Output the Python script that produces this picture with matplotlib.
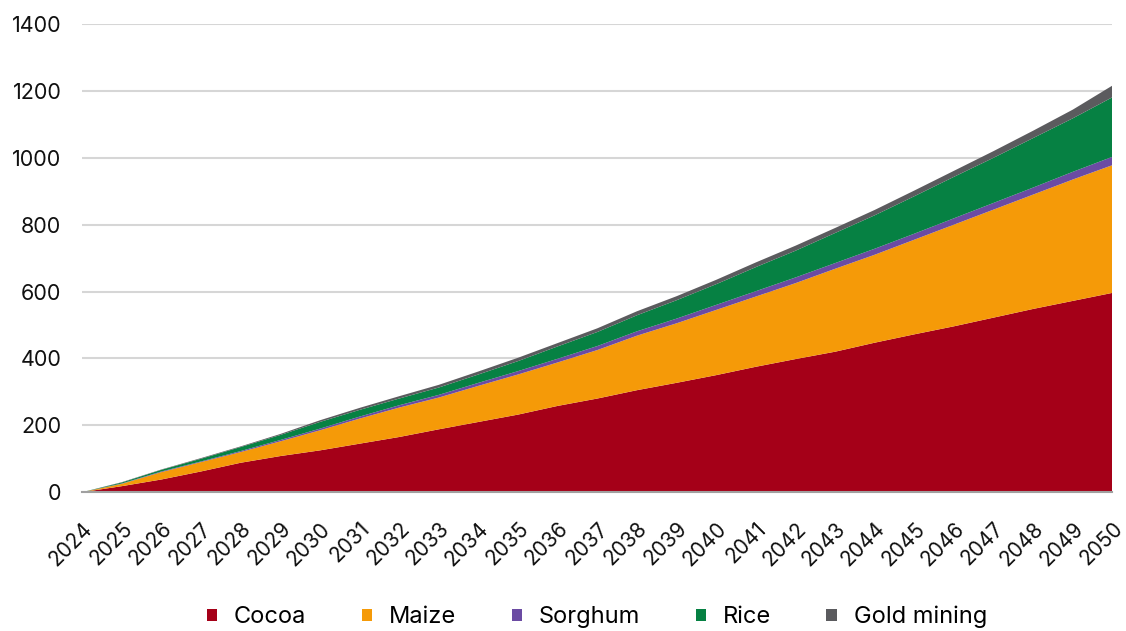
import matplotlib
matplotlib.use('Agg')
import matplotlib.pyplot as plt
from matplotlib.patches import Patch

plt.rcParams['font.family'] = ['Inter', 'DejaVu Sans']

years = list(range(2024, 2051))

# layer thickness for each series (stacked)
cocoa = [0, 18, 38, 62, 88, 108, 125, 145, 165, 188, 210, 232, 258, 280, 305,
         327, 350, 375, 398, 420, 447, 472, 496, 522, 548, 572, 596]
maize = [0, 7, 22, 28, 32, 44, 60, 75, 88, 95, 108, 120, 130, 145, 163,
         178, 195, 210, 227, 248, 263, 283, 304, 323, 342, 363, 382]
sorghum = [0, 1, 2, 2, 3, 4, 5, 6, 7, 8, 9, 10, 11, 12, 13,
           14, 15, 16, 17, 17, 18, 18, 19, 20, 21, 23, 25]
rice = [0, 3, 5, 8, 12, 15, 20, 20, 20, 22, 25, 30, 37, 42, 48,
        55, 62, 72, 80, 90, 100, 112, 124, 135, 148, 160, 178]
gold = [0, 1, 1, 2, 2, 3, 5, 6, 7, 8, 9, 10, 10, 11, 12,
        12, 13, 14, 15, 15, 16, 17, 18, 20, 22, 26, 35]

labels = ['Cocoa', 'Maize', 'Sorghum', 'Rice', 'Gold mining']
colors = ['#A50018', '#F59A08', '#6B4BA3', '#068143', '#5B5B5E']

fig, ax = plt.subplots(figsize=(11.26, 6.31), dpi=100)
fig.subplots_adjust(left=0.073, right=0.988, top=0.962, bottom=0.22)

ax.stackplot(years, cocoa, maize, sorghum, rice, gold, colors=colors,
             labels=labels, linewidth=0)

ax.set_xlim(2024, 2050)
ax.set_ylim(0, 1400)
ax.set_yticks(range(0, 1401, 200))
ax.set_xticks(years)
ax.set_xticklabels([str(y) for y in years], rotation=45, ha='right',
                   rotation_mode='anchor')
ax.tick_params(axis='both', length=0, colors='#111111')
ax.tick_params(axis='y', pad=15, labelsize=15.5)
ax.tick_params(axis='x', pad=19, labelsize=15)

ax.grid(axis='y', color='#d6d6d6', linewidth=1.5)
ax.set_axisbelow(True)
for side in ['top', 'right', 'left']:
    ax.spines[side].set_visible(False)
ax.spines['bottom'].set_color('#a0a0a0')
ax.spines['bottom'].set_linewidth(1.5)
ax.spines['bottom'].set_zorder(5)

handles = [Patch(facecolor=c, label=l) for c, l in zip(colors, labels)]
fig.legend(handles=handles, loc='center', bbox_to_anchor=(0.53, 0.022),
           ncol=5, frameon=False, fontsize=17, handlelength=0.45,
           handleheight=0.45, handletextpad=0.7, columnspacing=2.35)

fig.savefig('out.png', dpi=100)
